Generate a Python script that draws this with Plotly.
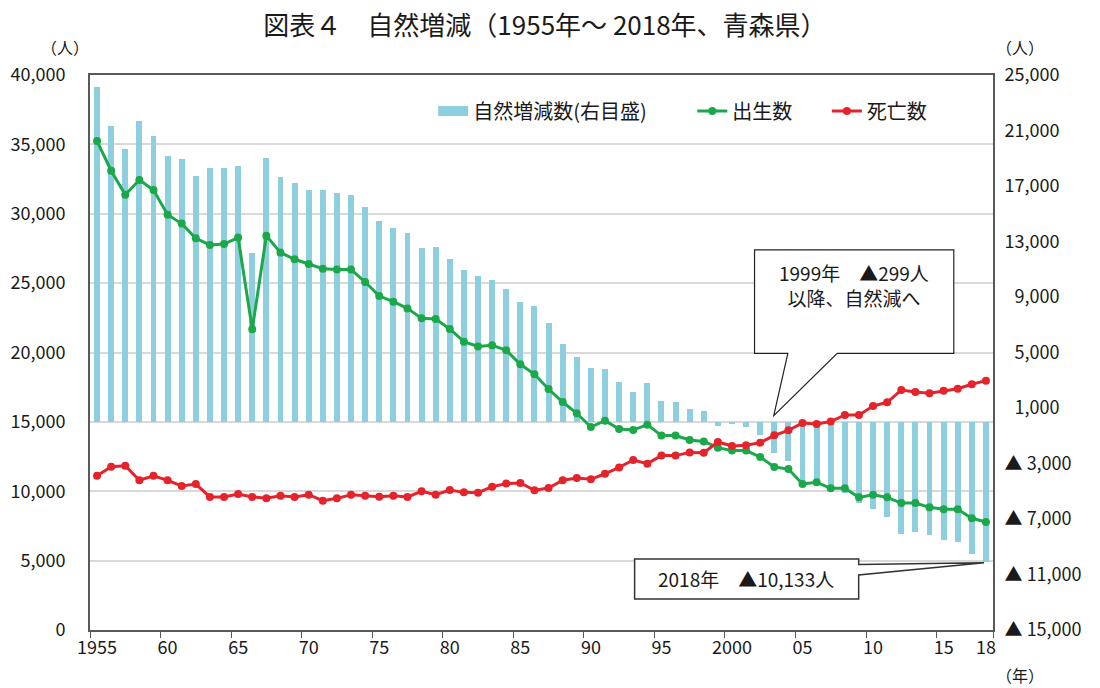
import plotly.graph_objects as go

years = list(range(1955, 2019))

births = [35240, 33100, 31370, 32430, 31710, 29930, 29290, 28230, 27750, 27820,
          28280, 21670, 28420, 27200, 26720, 26380, 26040, 25990, 25990, 25080,
          24070, 23660, 23180, 22460, 22410, 21700, 20780, 20440, 20530, 20160,
          19150, 18430, 17370, 16430, 15620, 14630, 15090, 14490, 14410, 14800,
          14010, 14010, 13690, 13590, 13140, 12930, 12930, 12470, 11750, 11600,
          10520, 10640, 10210, 10210, 9560, 9750, 9560, 9150, 9150, 8840,
          8700, 8700, 8050, 7780]

deaths = [11120, 11770, 11840, 10790, 11120, 10790, 10380, 10520, 9590, 9590,
          9800, 9590, 9490, 9680, 9590, 9750, 9320, 9490, 9750, 9680,
          9600, 9680, 9590, 10000, 9750, 10090, 9920, 9900, 10330, 10550,
          10600, 10070, 10230, 10790, 10960, 10860, 11260, 11720, 12250, 11990,
          12570, 12570, 12800, 12780, 13550, 13260, 13310, 13500, 14030, 14390,
          14920, 14850, 15020, 15500, 15500, 16140, 16410, 17300, 17150, 17060,
          17250, 17390, 17710, 17970]

natural = [24160, 21320, 19640, 21660, 20600, 19160, 18920, 17720, 18270, 18270,
           18440, 12170, 18990, 17620, 17220, 16740, 16740, 16500, 16330, 15460,
           14480, 14000, 13590, 12530, 12630, 11740, 10950, 10540, 10200, 9550,
           8620, 8380, 7150, 5610, 4680, 3860, 3790, 2900, 2180, 2820,
           1530, 1460, 900, 820, -299, -150, -390, -950, -2220, -2800,
           -4400, -4200, -4800, -5150, -5870, -6280, -6830, -8100, -7960, -8130,
           -8510, -8680, -9500, -10133]

x_label_vals = [1955, 1960, 1965, 1970, 1975, 1980, 1985, 1990, 1995, 2000,
                2005, 2010, 2015, 2018]
x_label_text = ["1955", "60", "65", "70", "75", "80", "85", "90", "95", "2000",
                "05", "10", "15", "18"]
x_tick_marks = [1954.5, 1959.5, 1964.5, 1969.5, 1974.5, 1979.5, 1984.5, 1989.5,
                1994.5, 1999.5, 2004.5, 2009.5, 2014.5, 2018.5]

left_ticks = [0, 5000, 10000, 15000, 20000, 25000, 30000, 35000, 40000]
right_ticks = [-15000, -11000, -7000, -3000, 1000, 5000, 9000, 13000, 17000, 21000, 25000]
right_text = ["▲ 15,000", "▲ 11,000", "▲ 7,000", "▲ 3,000", "\u20071,000", "\u20075,000",
              "\u20079,000", "13,000", "17,000", "21,000", "25,000"]

FONT = "Noto Sans CJK JP"
BAR_C = "#8ECFDF"
GREEN = "#1BA84A"
RED = "#E5232B"
AXC = "#595959"
TXT = "#1a1a1a"

fig = go.Figure()
fig.add_trace(go.Bar(x=years, y=natural, name="自然増減数(右目盛)", marker_color=BAR_C,
                     marker_line_width=0, width=0.42, yaxis="y", showlegend=False,
                     legendgroup="nat"))
# legend entry for the bar series (wide swatch like the reference)
fig.add_trace(go.Scatter(x=[None], y=[None], name="自然増減数(右目盛)", mode="lines",
                         line=dict(color=BAR_C, width=13), yaxis="y",
                         legend="legend", legendgroup="nat", hoverinfo="skip"))
fig.add_trace(go.Scatter(x=years, y=births, name="出生数", mode="lines+markers",
                         line=dict(color=GREEN, width=3), marker=dict(color=GREEN, size=8),
                         yaxis="y2", legend="legend2"))
fig.add_trace(go.Scatter(x=years, y=deaths, name="死亡数", mode="lines+markers",
                         line=dict(color=RED, width=3), marker=dict(color=RED, size=8),
                         yaxis="y2", legend="legend3"))

leg_common = dict(orientation="h", xanchor="left", y=0.935, yanchor="middle",
                  font=dict(family=FONT, size=20, color=TXT),
                  bgcolor="rgba(0,0,0,0)", itemwidth=30)

fig.update_layout(
    width=1092, height=680,
    margin=dict(l=82, r=107, t=67, b=58, autoexpand=False),
    paper_bgcolor="white", plot_bgcolor="white",
    font=dict(family=FONT, size=18, color=TXT),
    title=dict(text="図表４　自然増減（1955年～ 2018年、青森県）", x=(545 - 8) / 1092,
               xanchor="center", y=1 - 18 / 680, yanchor="middle", yref="container",
               font=dict(family=FONT, size=26, color=TXT)),
    showlegend=True,
    legend=dict(x=0.380, **leg_common),
    legend2=dict(x=0.667, **leg_common),
    legend3=dict(x=0.816, **leg_common),
    bargap=0,
    xaxis=dict(range=[1954.5, 2018.5], tickmode="array", tickvals=x_label_vals,
               ticktext=x_label_text, ticks="", showline=True, linecolor=AXC,
               linewidth=2, mirror=True, showgrid=False, zeroline=False,
               automargin=False, tickfont=dict(size=18),
               minor=dict(tickmode="array", tickvals=x_tick_marks, ticks="outside",
                          ticklen=6, tickcolor=AXC, tickwidth=1, showgrid=False)),
    yaxis=dict(side="right", range=[-15000, 25000], tickmode="array", tickvals=right_ticks,
               ticktext=right_text, showgrid=False, zeroline=False, showline=True,
               linecolor=AXC, linewidth=2, ticks="", ticklabelstandoff=6,
               automargin=False, tickfont=dict(size=18)),
    yaxis2=dict(side="left", overlaying="y", range=[0, 40000], tickmode="array",
                tickvals=left_ticks, ticktext=[f"{v:,}" for v in left_ticks],
                showgrid=True, gridcolor="#D9D9D9", gridwidth=1.5, zeroline=False,
                showline=True, linecolor=AXC, linewidth=2, ticks="",
                ticklabelstandoff=19, automargin=False, tickfont=dict(size=18)),
)

# Callout shapes (data coordinates on x / left axis)
fig.add_shape(type="path", xref="x", yref="y2", layer="above",
              path="M 2001.6,27390 L 2015.72,27390 L 2015.72,19940 L 2007.46,19940 "
                   "L 2002.96,15450 L 2003.96,19940 L 2001.6,19940 Z",
              fillcolor="white", line=dict(color="#222222", width=1.2))
fig.add_shape(type="path", xref="x", yref="y2", layer="above",
              path="M 1993.1,5117 L 2008.98,5117 L 2008.98,4720 L 2017.86,4850 "
                   "L 2008.98,3964 L 2008.98,2234 L 1993.1,2234 Z",
              fillcolor="white", line=dict(color="#333333", width=1.5))

fig.add_annotation(x=2008.64, y=24865, xref="x", yref="y2",
                   text="1999年　▲299人<br>以降、自然減へ", showarrow=False,
                   font=dict(family=FONT, size=19, color=TXT), align="center")
fig.add_annotation(x=2001.0, y=3720, xref="x", yref="y2",
                   text="2018年　▲10,133人", showarrow=False,
                   font=dict(family=FONT, size=19, color=TXT), align="center")

# Unit labels
fig.add_annotation(x=-0.028, y=1.05, xref="paper", yref="paper", text="（人）",
                   xanchor="center", yanchor="middle", showarrow=False, font=dict(size=16))
fig.add_annotation(x=1.03, y=1.05, xref="paper", yref="paper", text="（人）",
                   xanchor="center", yanchor="middle", showarrow=False, font=dict(size=16))
fig.add_annotation(x=1.03, y=-0.081, xref="paper", yref="paper", text="（年）",
                   xanchor="center", yanchor="middle", showarrow=False, font=dict(size=16))

fig.write_html("out.html")
